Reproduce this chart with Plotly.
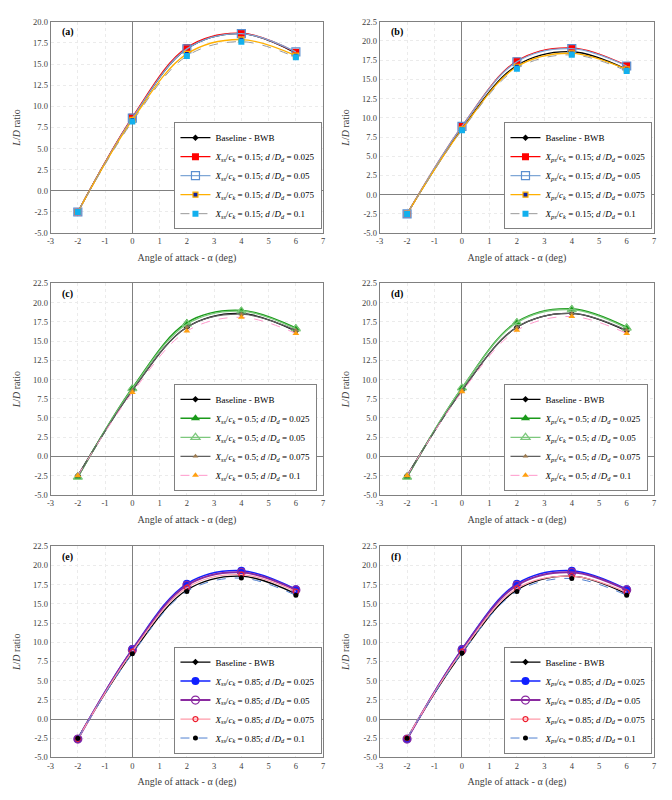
import plotly.graph_objects as go

alpha = [-2, 0, 2, 4, 6]

baseline = [-2.5, 8.6, 16.8, 18.6, 16.3]

# Panel (a): X_ss/c_k = 0.15
a_025 = [-2.5, 8.7, 16.95, 18.65, 16.4]
a_05 = [-2.5, 8.6, 16.8, 18.6, 16.45]
a_075 = [-2.5, 8.4, 16.2, 17.9, 16.0]
a_1 = [-2.5, 8.2, 15.95, 17.65, 15.8]

# Panel (b): X_ps/c_k = 0.15
b_025 = [-2.5, 8.9, 17.4, 19.1, 16.8]
b_05 = [-2.5, 8.9, 17.3, 19.0, 16.75]
b_075 = [-2.5, 8.5, 16.65, 18.4, 16.3]
b_1 = [-2.5, 8.4, 16.4, 18.2, 16.1]

# Panel (c): X_ss/c_k = 0.5
c_025 = [-2.7, 8.9, 17.4, 19.0, 16.7]
c_05 = [-2.7, 8.8, 17.2, 18.9, 16.6]
c_075 = [-2.6, 8.6, 16.8, 18.5, 16.4]
c_1 = [-2.5, 8.3, 16.3, 18.1, 16.0]

# Panel (d): X_ps/c_k = 0.5
d_025 = [-2.7, 8.9, 17.5, 19.2, 16.8]
d_05 = [-2.7, 8.9, 17.4, 19.1, 16.7]
d_075 = [-2.6, 8.6, 16.8, 18.6, 16.4]
d_1 = [-2.5, 8.4, 16.4, 18.2, 16.0]

# Panel (e): X_ss/c_k = 0.85
e_025 = [-2.6, 9.1, 17.6, 19.3, 16.9]
e_05 = [-2.6, 9.0, 17.4, 19.1, 16.8]
e_075 = [-2.6, 8.8, 17.1, 18.8, 16.6]
e_1 = [-2.5, 8.5, 16.6, 18.35, 16.1]

# Panel (f): X_ps/c_k = 0.85
f_025 = [-2.6, 9.1, 17.6, 19.3, 16.9]
f_05 = [-2.6, 9.0, 17.4, 19.1, 16.8]
f_075 = [-2.5, 8.8, 17.0, 18.6, 16.5]
f_1 = [-2.5, 8.6, 16.6, 18.3, 16.1]

d_ratios = ["0.025", "0.05", "0.075", "0.1"]
panel_labels = ["(a)", "(b)", "(c)", "(d)", "(e)", "(f)"]
x_ticks = [-3, -2, -1, 0, 1, 2, 3, 4, 5, 6, 7]

FONT = "Liberation Serif"

panels = [
    dict(sub="ss", pos="0.15", data=[a_025, a_05, a_075, a_1], ymax=20.0),
    dict(sub="ps", pos="0.15", data=[b_025, b_05, b_075, b_1], ymax=22.5),
    dict(sub="ss", pos="0.5", data=[c_025, c_05, c_075, c_1], ymax=22.5),
    dict(sub="ps", pos="0.5", data=[d_025, d_05, d_075, d_1], ymax=22.5),
    dict(sub="ss", pos="0.85", data=[e_025, e_05, e_075, e_1], ymax=22.5),
    dict(sub="ps", pos="0.85", data=[f_025, f_05, f_075, f_1], ymax=22.5),
]

# styles per row: (line colour, line width, dash, marker symbol, marker colour, marker size, marker line colour)
row_styles = [
    [  # square markers
        ("#ff0000", 1.3, "solid", "square", "#ff0000", 7, "#ff0000"),
        ("#7fa7d6", 1.3, "solid", "square-open", "#5b8fd0", 8, "#5b8fd0"),
        ("#ffb000", 1.3, "solid", "square", "#1020a0", 5, "#ffb000"),
        ("#9a9a9a", 1.0, "dash", "square", "#12b0ee", 6, "#12b0ee"),
    ],
    [  # triangles
        ("#1a9a1a", 1.5, "solid", "triangle-up", "#1a9a1a", 8, "#1a9a1a"),
        ("#7cc87c", 1.3, "solid", "triangle-up-open", "#7cc87c", 8, "#7cc87c"),
        ("#606060", 1.3, "solid", "triangle-up", "#9c7a50", 5, "#9c7a50"),
        ("#ff99cc", 1.0, "dash", "triangle-up", "#ffa010", 6, "#ffa010"),
    ],
    [  # circles
        ("#1020ff", 1.5, "solid", "circle", "#1020ff", 8, "#1020ff"),
        ("#8a2aa0", 2.0, "solid", "circle-open", "#8a2aa0", 8, "#8a2aa0"),
        ("#ff9aa8", 1.2, "solid", "circle-open", "#ee2030", 5, "#ee2030"),
        ("#5080d0", 1.0, "dash", "circle", "#000000", 5, "#000000"),
    ],
]

W, H = 672, 800
x_dom = [(47 / W, 322 / W), (379 / W, 656 / W)]
y_px = [(17, 231), (282, 496), (548, 762)]
y_dom = [(1 - b / H, 1 - t / H) for (t, b) in y_px]
# legend left edge and bottom edge in pixels
legend_pos = [(172, 227), (505, 227), (172, 492), (505, 492), (172, 758), (505, 758)]

fig = go.Figure()
layout = dict(
    width=W, height=H, margin=dict(l=0, r=0, t=0, b=0),
    paper_bgcolor="white", plot_bgcolor="white",
    font=dict(family=FONT, color="#404040", size=9),
    annotations=[],
)

for i, p in enumerate(panels):
    row, col = divmod(i, 2)
    ax = "" if i == 0 else str(i + 1)
    xref, yref = "x" + ax, "y" + ax
    legname = "legend" if i == 0 else "legend" + str(i + 1)
    styles = row_styles[row]

    fig.add_trace(go.Scatter(
        x=alpha, y=baseline, xaxis=xref, yaxis=yref, legend=legname,
        name="Baseline - BWB", mode="lines+markers",
        line=dict(color="#000000", width=1.3, shape="spline", smoothing=1.0),
        marker=dict(symbol="diamond", size=5, color="#000000"),
    ))
    for k, (vals, st) in enumerate(zip(p["data"], styles)):
        lc, lw, dash, sym, mc, ms, mlc = st
        nm = (f"<i>X</i><sub><i>{p['sub']}</i></sub>/<i>c</i><sub><i>k</i></sub> = {p['pos']}; "
              f"<i>d</i> /<i>D</i><sub><i>d</i></sub> = {d_ratios[k]}")
        fig.add_trace(go.Scatter(
            x=alpha, y=vals, xaxis=xref, yaxis=yref, legend=legname,
            name=nm, mode="lines+markers",
            line=dict(color=lc, width=lw, dash=dash, shape="spline", smoothing=1.0),
            marker=dict(symbol=sym, size=ms, color=mc,
                        line=dict(color=mlc, width=1.2 if "open" in sym or mlc != mc else 0)),
        ))

    ymax = p["ymax"]
    yt = [-5 + 2.5 * j for j in range(int(round((ymax + 5) / 2.5)) + 1)]
    layout["xaxis" + ax] = dict(
        domain=list(x_dom[col]), anchor=yref, range=[-3, 7], tickvals=x_ticks,
        ticktext=[str(v) for v in x_ticks], ticks="", showline=True, mirror=True,
        linecolor="#808080", linewidth=1, showgrid=True, gridcolor="#ebebeb",
        griddash="dot", gridwidth=1, zeroline=True, zerolinecolor="#808080",
        zerolinewidth=1, tickfont=dict(family=FONT, size=8.5, color="#404040"),
        title=dict(text="Angle of attack - α (deg)",
                   font=dict(family=FONT, size=10, color="#404040"), standoff=8),
    )
    layout["yaxis" + ax] = dict(
        domain=list(y_dom[row]), anchor=xref, range=[-5, ymax], tickvals=yt,
        ticktext=[f"{v:.1f}" for v in yt], ticks="", showline=True, mirror=True,
        linecolor="#808080", linewidth=1, showgrid=True, gridcolor="#ebebeb",
        griddash="dot", gridwidth=1, zeroline=True, zerolinecolor="#808080",
        zerolinewidth=1, tickfont=dict(family=FONT, size=8.5, color="#404040"),
        title=dict(text="<i>L</i>/<i>D</i> ratio",
                   font=dict(family=FONT, size=10, color="#404040"), standoff=10),
    )
    lx, ly = legend_pos[i]
    layout[legname] = dict(
        x=lx / W, y=1 - ly / H, xanchor="left", yanchor="bottom", xref="paper", yref="paper",
        bgcolor="white", bordercolor="#808080", borderwidth=1,
        font=dict(family=FONT, size=9, color="#000000"),
        itemwidth=30, tracegroupgap=0,
    )
    layout["annotations"].append(dict(
        text="<b>" + panel_labels[i] + "</b>", xref=xref + " domain", yref=yref + " domain",
        x=0.035, y=0.95, xanchor="left", yanchor="middle", showarrow=False,
        font=dict(family=FONT, size=10, color="#000000"),
    ))

fig.update_layout(**layout)
fig.write_html("out.html")
